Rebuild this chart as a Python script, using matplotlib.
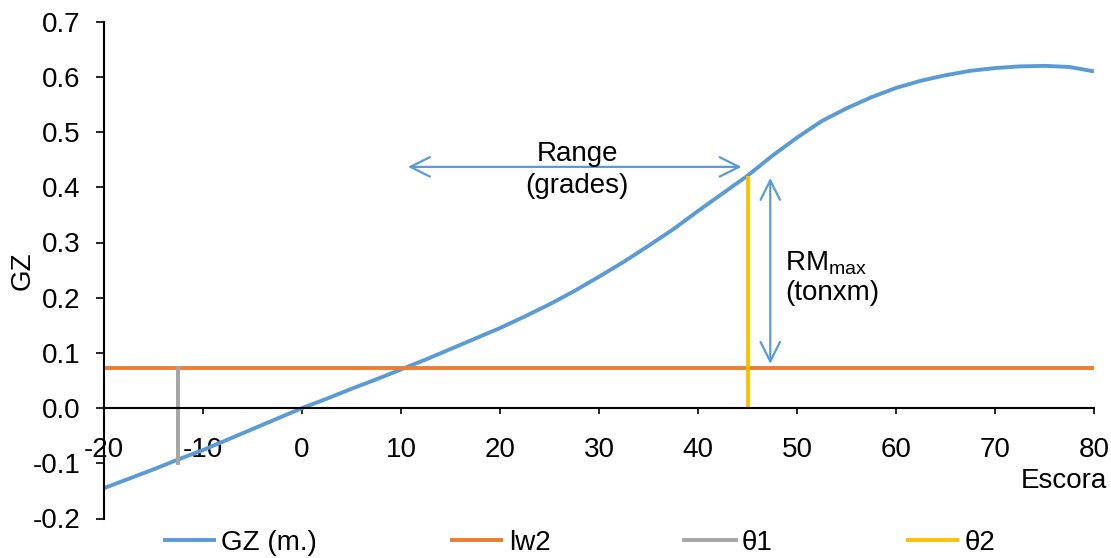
import numpy as np
import matplotlib
matplotlib.use("Agg")
import matplotlib.pyplot as plt

plt.rcParams['font.family'] = ['Liberation Sans', 'DejaVu Sans']
plt.rcParams['axes.unicode_minus'] = False

# righting arm curve, GZ (m) vs heel angle (deg)
escora = [-20, -17.5, -15, -12.5, -10, -7.5, -5, -2.5, 0, 2.5, 5, 7.5, 10, 12.5, 15,
          17.5, 20, 22.5, 25, 27.5, 30, 32.5, 35, 37.5, 40, 42.5, 45, 47.5, 50, 52.5,
          55, 57.5, 60, 62.5, 65, 67.5, 70, 72.5, 75, 77.5, 80]
gz = [-0.145, -0.128, -0.111, -0.093, -0.076, -0.057, -0.038, -0.019, 0.0, 0.017,
      0.035, 0.052, 0.070, 0.088, 0.107, 0.126, 0.145, 0.166, 0.188, 0.212, 0.238,
      0.265, 0.294, 0.324, 0.357, 0.389, 0.421, 0.457, 0.490, 0.520, 0.543, 0.563,
      0.580, 0.593, 0.603, 0.611, 0.616, 0.619, 0.620, 0.618, 0.610]

# heeling arm lw2 and the two angles
lw2 = 0.072
theta1 = -12.5
theta1_low = -0.10
theta2 = 45
theta2_gz = 0.42

# annotation arrows
range_x = [10.7, 44.4]
range_y = 0.437
rm_x = 47.3
rm_y = [0.080, 0.417]

xticks = list(range(-20, 81, 10))
yticks = [-0.2, -0.1, 0.0, 0.1, 0.2, 0.3, 0.4, 0.5, 0.6, 0.7]

c_gz = '#5B9BD5'
c_lw = '#ED7D31'
c_t1 = '#A5A5A5'
c_t2 = '#FFC000'
fs = 20

fig = plt.figure(figsize=(11.11, 5.58), dpi=100)
ax = fig.add_axes([104 / 1111, 1 - 518.5 / 558, (1094 - 104) / 1111, (518.5 - 21.7) / 558])

ax.plot(escora, gz, color=c_gz, lw=2.8, label='GZ (m.)', solid_capstyle='butt',
        solid_joinstyle='round')
ax.plot([escora[0], escora[-1]], [lw2, lw2], color=c_lw, lw=2.8, label='lw2',
        solid_capstyle='butt')
ax.plot([theta1, theta1], [lw2, theta1_low], color=c_t1, lw=2.8, label='θ1')
ax.plot([theta2, theta2], [0, theta2_gz], color=c_t2, lw=2.8, label='θ2',
        solid_capstyle='butt')

arrow = dict(arrowstyle='<->,head_length=0.7,head_width=0.35', color=c_gz, lw=1.6,
             shrinkA=0, shrinkB=0, mutation_scale=20)
ax.annotate('', xy=(range_x[0], range_y), xytext=(range_x[1], range_y), arrowprops=arrow)
ax.annotate('', xy=(rm_x, rm_y[0]), xytext=(rm_x, rm_y[1]), arrowprops=arrow)

ax.text(27.8, 0.432, 'Range\n(grades)', ha='center', va='center', fontsize=fs,
        linespacing=1.3)
ax.text(48.8, 0.236, 'RM$_{\\mathregular{max}}$\n(tonxm)', ha='left', va='center',
        fontsize=fs, linespacing=1.15)

ax.set_xlim(-20, 80)
ax.set_ylim(-0.2, 0.7)
ax.set_xticks(xticks)
ax.set_yticks(yticks)
ax.set_yticklabels(['%.1f' % v for v in yticks])

for s in ['top', 'right']:
    ax.spines[s].set_visible(False)
ax.spines['bottom'].set_position(('data', 0))
ax.spines['bottom'].set_linewidth(1.5)
ax.spines['left'].set_linewidth(1.5)
ax.tick_params(axis='x', direction='out', length=4.5, width=1.2, pad=16, labelsize=fs)
ax.tick_params(axis='y', direction='out', length=6, width=1.2, pad=11, labelsize=fs)

fig.text(1107 / 1111, 1 - 481 / 558, 'Escora', ha='right', va='center', fontsize=fs)
fig.text(23 / 1111, 1 - 271 / 558, 'GZ', ha='center', va='center', rotation=90, fontsize=fs)

fig.legend(loc='center', bbox_to_anchor=(579 / 1111, 1 - 543 / 558), ncol=4,
           frameon=False, fontsize=fs, handlelength=1.9, handletextpad=0.2,
           columnspacing=4.8, borderpad=0)

fig.savefig('out.png', dpi=100)
